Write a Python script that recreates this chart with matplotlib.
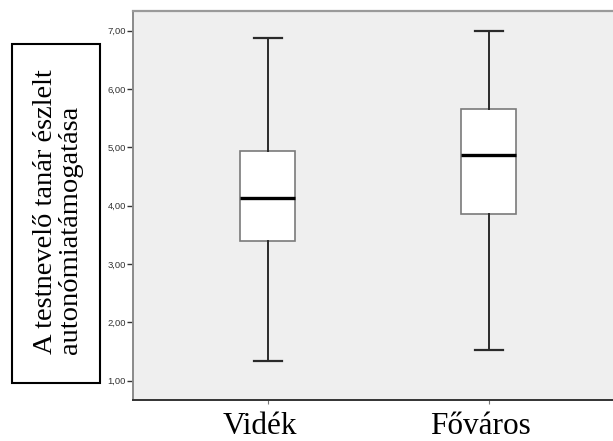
import matplotlib
matplotlib.use("Agg")
import matplotlib.pyplot as plt
import matplotlib.transforms as mtransforms
from matplotlib.patches import Rectangle

groups = ["Vidék", "Főváros"]
whisker_low = [1.33, 1.53]
q1 = [3.40, 3.86]
median = [4.13, 4.87]
q3 = [4.93, 5.66]
whisker_high = [6.87, 7.00]
y_ticks = [1, 2, 3, 4, 5, 6, 7]
y_label = "A testnevelő tanár észlelt\nautonómiatámogatása"

fig = plt.figure(figsize=(6.13, 4.41), dpi=100)
ax = fig.add_axes([0.2165, 0.0923, 0.7835, 0.8828])
ax.set_facecolor("#efefef")

stats = []
for i in range(len(groups)):
    stats.append({"whislo": whisker_low[i], "q1": q1[i], "med": median[i],
                  "q3": q3[i], "whishi": whisker_high[i], "fliers": [],
                  "label": groups[i]})

positions = [1, 2]
ax.bxp(stats, positions=positions, widths=0.25, patch_artist=True,
       showfliers=False,
       boxprops=dict(facecolor="white", edgecolor="#7a7a7a", linewidth=1.2),
       medianprops=dict(color="black", linewidth=2.4),
       whiskerprops=dict(color="#2a2a2a", linewidth=1.4),
       capprops=dict(color="#2a2a2a", linewidth=1.6),
       capwidths=0.127)

ax.set_xlim(0.389, 2.562)
ax.set_ylim(0.664, 7.338)
ax.set_yticks(y_ticks)
ax.set_yticklabels([f"{v:.2f}".replace(".", ",") for v in y_ticks],
                   fontsize=6.8, family="Liberation Sans", color="#333333")
ax.set_xticks(positions)
ax.set_xticklabels([])
ax.tick_params(axis="y", length=4, width=1, color="#333333", pad=1)
ax.tick_params(axis="x", length=3, width=0.8, color="#777777")

# group labels sit a little left of their ticks in the original
shift = mtransforms.ScaledTranslation(-8 / 100, -34 / 100, fig.dpi_scale_trans)
for x, name in zip(positions, groups):
    ax.text(x, 0, name, transform=ax.get_xaxis_transform() + shift,
            ha="center", va="baseline", fontsize=22.5,
            family="Liberation Serif")

ax.spines["right"].set_visible(False)
ax.spines["top"].set_color("#9a9a9a")
ax.spines["top"].set_linewidth(1.6)
ax.spines["left"].set_color("#8a8a8a")
ax.spines["left"].set_linewidth(1.4)
ax.spines["bottom"].set_color("#333333")
ax.spines["bottom"].set_linewidth(1.4)

# boxed y label
fig.patches.append(Rectangle((12 / 613, 1 - 383 / 441), 88 / 613, 339 / 441,
                             transform=fig.transFigure, fill=False,
                             edgecolor="black", linewidth=1.5))
fig.text(58 / 613, 1 - 212 / 441, y_label, rotation=90, ha="center",
         va="center", fontsize=20.5, family="Liberation Serif",
         linespacing=0.95, multialignment="left")

fig.savefig("out.png", dpi=100)
